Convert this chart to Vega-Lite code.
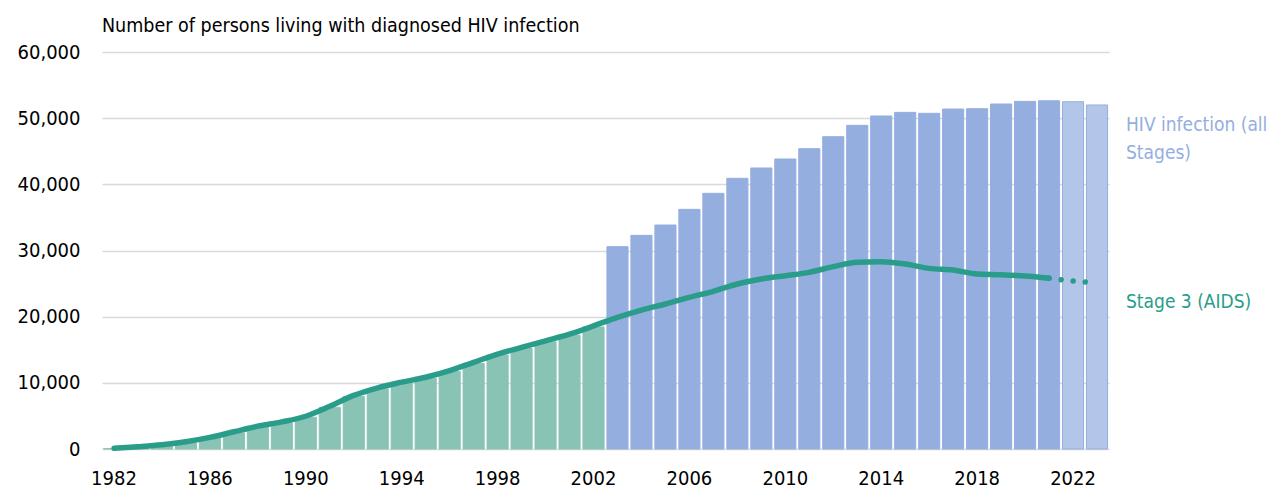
{
  "$schema": "https://vega.github.io/schema/vega-lite/v6.json",
  "autosize": "none",
  "width": 1007,
  "height": 397,
  "padding": {"left": 102, "top": 52, "right": 159, "bottom": 40},
  "background": "white",
  "config": {
    "font": "DejaVu Sans Condensed, sans-serif",
    "view": {"stroke": null}
  },
  "title": {
    "text": "Number of persons living with diagnosed HIV infection",
    "anchor": "start",
    "frame": "group",
    "fontSize": 19.5,
    "fontWeight": "normal",
    "color": "#000000",
    "offset": 6
  },
  "datasets": {
    "hiv": [
      {"year": 1982, "total": 50, "aids": 100, "period": "AIDS"},
      {"year": 1983, "total": 250, "aids": 350, "period": "AIDS"},
      {"year": 1984, "total": 500, "aids": 650, "period": "AIDS"},
      {"year": 1985, "total": 950, "aids": 1100, "period": "AIDS"},
      {"year": 1986, "total": 1600, "aids": 1750, "period": "AIDS"},
      {"year": 1987, "total": 2450, "aids": 2600, "period": "AIDS"},
      {"year": 1988, "total": 3300, "aids": 3450, "period": "AIDS"},
      {"year": 1989, "total": 3950, "aids": 4100, "period": "AIDS"},
      {"year": 1990, "total": 4800, "aids": 4950, "period": "AIDS"},
      {"year": 1991, "total": 6300, "aids": 6450, "period": "AIDS"},
      {"year": 1992, "total": 7950, "aids": 8100, "period": "AIDS"},
      {"year": 1993, "total": 9100, "aids": 9250, "period": "AIDS"},
      {"year": 1994, "total": 9950, "aids": 10100, "period": "AIDS"},
      {"year": 1995, "total": 10700, "aids": 10850, "period": "AIDS"},
      {"year": 1996, "total": 11700, "aids": 11850, "period": "AIDS"},
      {"year": 1997, "total": 12950, "aids": 13100, "period": "AIDS"},
      {"year": 1998, "total": 14200, "aids": 14350, "period": "AIDS"},
      {"year": 1999, "total": 15200, "aids": 15350, "period": "AIDS"},
      {"year": 2000, "total": 16200, "aids": 16350, "period": "AIDS"},
      {"year": 2001, "total": 17200, "aids": 17350, "period": "AIDS"},
      {"year": 2002, "total": 18450, "aids": 18600, "period": "AIDS"},
      {"year": 2003, "total": 30580, "aids": 19900, "period": "HIV"},
      {"year": 2004, "total": 32290, "aids": 21000, "period": "HIV"},
      {"year": 2005, "total": 33850, "aids": 21910, "period": "HIV"},
      {"year": 2006, "total": 36220, "aids": 22920, "period": "HIV"},
      {"year": 2007, "total": 38640, "aids": 23830, "period": "HIV"},
      {"year": 2008, "total": 40910, "aids": 24940, "period": "HIV"},
      {"year": 2009, "total": 42470, "aids": 25690, "period": "HIV"},
      {"year": 2010, "total": 43830, "aids": 26190, "period": "HIV"},
      {"year": 2011, "total": 45390, "aids": 26700, "period": "HIV"},
      {"year": 2012, "total": 47200, "aids": 27560, "period": "HIV"},
      {"year": 2013, "total": 48920, "aids": 28220, "period": "HIV"},
      {"year": 2014, "total": 50330, "aids": 28310, "period": "HIV"},
      {"year": 2015, "total": 50880, "aids": 27960, "period": "HIV"},
      {"year": 2016, "total": 50730, "aids": 27300, "period": "HIV"},
      {"year": 2017, "total": 51380, "aids": 27050, "period": "HIV"},
      {"year": 2018, "total": 51430, "aids": 26450, "period": "HIV"},
      {"year": 2019, "total": 52140, "aids": 26350, "period": "HIV"},
      {"year": 2020, "total": 52540, "aids": 26140, "period": "HIV"},
      {"year": 2021, "total": 52630, "aids": 25800, "period": "HIV"},
      {"year": 2022, "total": 52490, "aids": 25390, "period": "Estimate"},
      {"year": 2023, "total": 51990, "aids": 25130, "period": "Estimate"}
    ],
    "labels": [
      {"year": 2023, "value": 48970, "label": ["HIV infection (all", "Stages)"], "series": "HIV"},
      {"year": 2023, "value": 22200, "label": ["Stage 3 (AIDS)"], "series": "AIDS"}
    ]
  },
  "encoding": {
    "x": {
      "field": "year",
      "type": "ordinal",
      "scale": {"paddingInner": 0.12, "paddingOuter": 0.06},
      "axis": {
        "title": null,
        "values": [1982, 1986, 1990, 1994, 1998, 2002, 2006, 2010, 2014, 2018, 2022],
        "labelAngle": 0,
        "labelFontSize": 20,
        "labelColor": "#000000",
        "labelPadding": 19,
        "ticks": false,
        "domain": false,
        "grid": false
      }
    }
  },
  "layer": [
    {
      "data": {"name": "hiv"},
      "mark": {"type": "bar", "strokeWidth": 1},
      "encoding": {
        "y": {
          "field": "total",
          "type": "quantitative",
          "scale": {"domain": [0, 60000], "nice": false},
          "axis": {
            "title": null,
            "values": [0, 10000, 20000, 30000, 40000, 50000, 60000],
            "format": ",d",
            "labelFontSize": 20,
            "labelColor": "#000000",
            "labelPadding": 22,
            "ticks": false,
            "domain": false,
            "grid": true,
            "gridColor": "#D9D9D9",
            "gridWidth": 1.5
          }
        },
        "color": {
          "field": "period",
          "type": "nominal",
          "scale": {"domain": ["AIDS", "HIV", "Estimate"], "range": ["#88C3B5", "#94AEDF", "#B3C5E9"]},
          "legend": null
        },
        "stroke": {
          "field": "period",
          "type": "nominal",
          "scale": {"domain": ["AIDS", "HIV", "Estimate"], "range": ["#88C3B5", "#94AEDF", "#94AEDF"]},
          "legend": null
        }
      }
    },
    {
      "data": {"name": "hiv"},
      "transform": [{"filter": "datum.year <= 2021"}],
      "mark": {"type": "line", "color": "#2A9D8A", "strokeWidth": 5.5, "strokeCap": "round", "strokeJoin": "round", "interpolate": "monotone"},
      "encoding": {
        "y": {"field": "aids", "type": "quantitative"}
      }
    },
    {
      "data": {"name": "hiv"},
      "transform": [{"filter": "datum.year >= 2021"}],
      "mark": {"type": "line", "color": "#2A9D8A", "strokeWidth": 5.5, "strokeCap": "round", "strokeDash": [0.1, 12], "interpolate": "monotone"},
      "encoding": {
        "y": {"field": "aids", "type": "quantitative"}
      }
    },
    {
      "data": {"name": "labels"},
      "mark": {"type": "text", "align": "left", "baseline": "middle", "dx": 29, "fontSize": 19, "lineHeight": 28},
      "encoding": {
        "y": {"field": "value", "type": "quantitative"},
        "text": {"field": "label"},
        "color": {
          "field": "series",
          "type": "nominal",
          "scale": {"domain": ["HIV", "AIDS"], "range": ["#94AEDF", "#2A9D8A"]},
          "legend": null
        }
      }
    }
  ],
  "resolve": {"scale": {"color": "independent"}}
}
